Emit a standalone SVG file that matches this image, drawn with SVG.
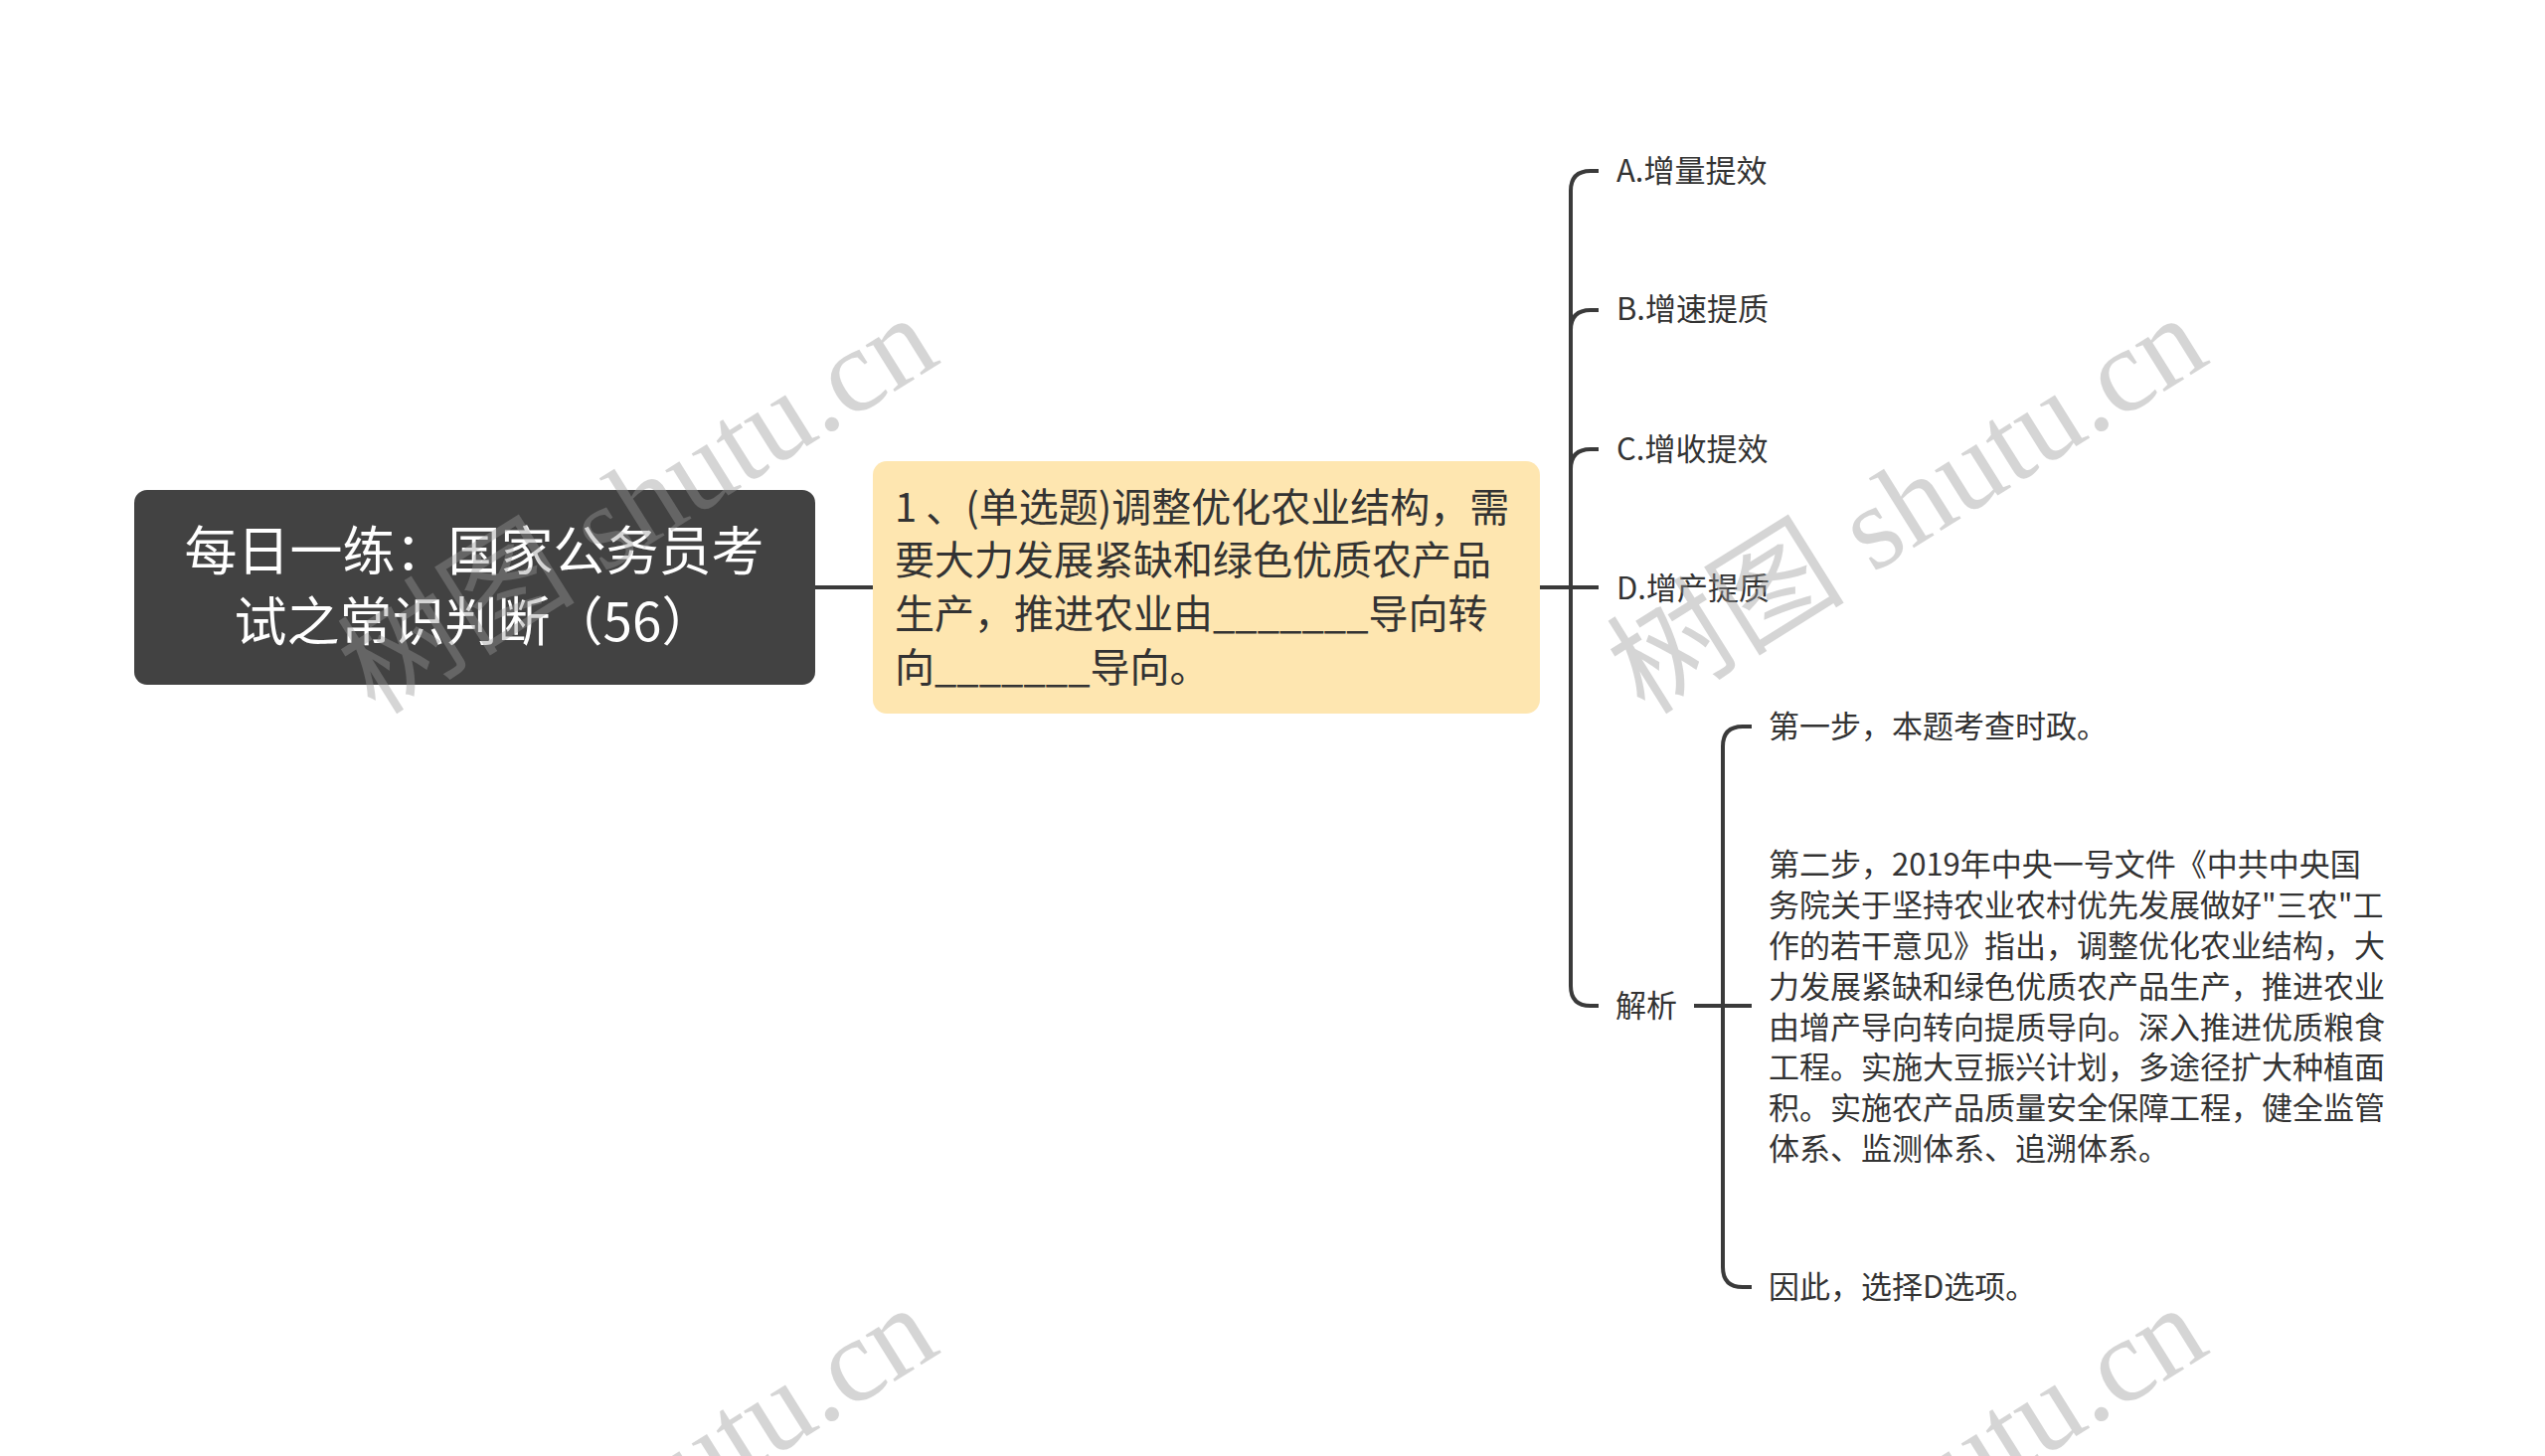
<svg xmlns="http://www.w3.org/2000/svg" width="2560" height="1465" viewBox="0 0 2560 1465">
<style>
.t{font-family:"Noto Sans CJK SC","Noto Sans",sans-serif;fill:#333}
.s{font-size:31px}
.root{font-family:"Noto Sans CJK SC","Noto Sans",sans-serif;font-size:53px;fill:#fff}
.mid{font-size:40px}
.ln{fill:none;stroke:#3a3a3a;stroke-width:4;stroke-linecap:butt}
.wm{font-family:"Liberation Serif","Noto Sans CJK SC",serif;font-size:120px;fill:#999;opacity:0.4}
</style>
<rect width="2560" height="1465" fill="#fff"/>
<g id="connectors">
<path class="ln" d="M820,591 H878"/>
<path class="ln" d="M1549,591 H1608"/>
<path class="ln" d="M1608,172 H1600 Q1580,172 1580,192 V992 Q1580,1012 1600,1012 H1608"/>
<path class="ln" d="M1580,332 Q1580,312 1600,312 H1608"/>
<path class="ln" d="M1580,472 Q1580,452 1600,452 H1608"/>
<path class="ln" d="M1704,1012 H1762"/>
<path class="ln" d="M1762,731 H1753 Q1733,731 1733,751 V1275 Q1733,1295 1753,1295 H1762"/>
</g>
<g id="root">
<rect x="135" y="493" width="685" height="196" rx="13" fill="#424242"/>
<text class="root" x="477" y="574" text-anchor="middle">每日一练：国家公务员考</text>
<text class="root" x="477" y="645" text-anchor="middle">试之常识判断（56）</text>
</g>
<g id="question">
<rect x="878" y="464" width="671" height="254" rx="14" fill="#fee6b0"/>
<text class="t mid" x="900" y="525">1 、(单选题)调整优化农业结构，需</text>
<text class="t mid" x="900" y="578">要大力发展紧缺和绿色优质农产品</text>
<text class="t mid" x="900" y="632">生产，推进农业由_______导向转</text>
<text class="t mid" x="900" y="686">向_______导向。</text>
</g>
<g id="optA"><text class="t s" x="1626" y="183">A.增量提效</text></g>
<g id="optB"><text class="t s" x="1626" y="322">B.增速提质</text></g>
<g id="optC"><text class="t s" x="1626" y="463">C.增收提效</text></g>
<g id="optD"><text class="t s" x="1626" y="603">D.增产提质</text></g>
<g id="analysis"><text class="t s" x="1625" y="1023">解析</text></g>
<g id="step1"><text class="t s" x="1779" y="742">第一步，本题考查时政。</text></g>
<g id="step2">
<text class="t s" x="1779" y="881">第二步，2019年中央一号文件《中共中央国</text>
<text class="t s" x="1779" y="922">务院关于坚持农业农村优先发展做好"三农"工</text>
<text class="t s" x="1779" y="963">作的若干意见》指出，调整优化农业结构，大</text>
<text class="t s" x="1779" y="1004">力发展紧缺和绿色优质农产品生产，推进农业</text>
<text class="t s" x="1779" y="1045">由增产导向转向提质导向。深入推进优质粮食</text>
<text class="t s" x="1779" y="1085">工程。实施大豆振兴计划，多途径扩大种植面</text>
<text class="t s" x="1779" y="1126">积。实施农产品质量安全保障工程，健全监管</text>
<text class="t s" x="1779" y="1167">体系、监测体系、追溯体系。</text>
</g>
<g id="step3"><text class="t s" x="1779" y="1306">因此，选择D选项。</text></g>
<g id="watermarks">
<text class="wm" text-anchor="middle" transform="translate(663,542) rotate(-32)">树图 shutu.cn</text>
<text class="wm" text-anchor="middle" transform="translate(1940,542) rotate(-32)">树图 shutu.cn</text>
<text class="wm" text-anchor="middle" transform="translate(663,1538) rotate(-32)">树图 shutu.cn</text>
<text class="wm" text-anchor="middle" transform="translate(1940,1538) rotate(-32)">树图 shutu.cn</text>
</g>
</svg>
